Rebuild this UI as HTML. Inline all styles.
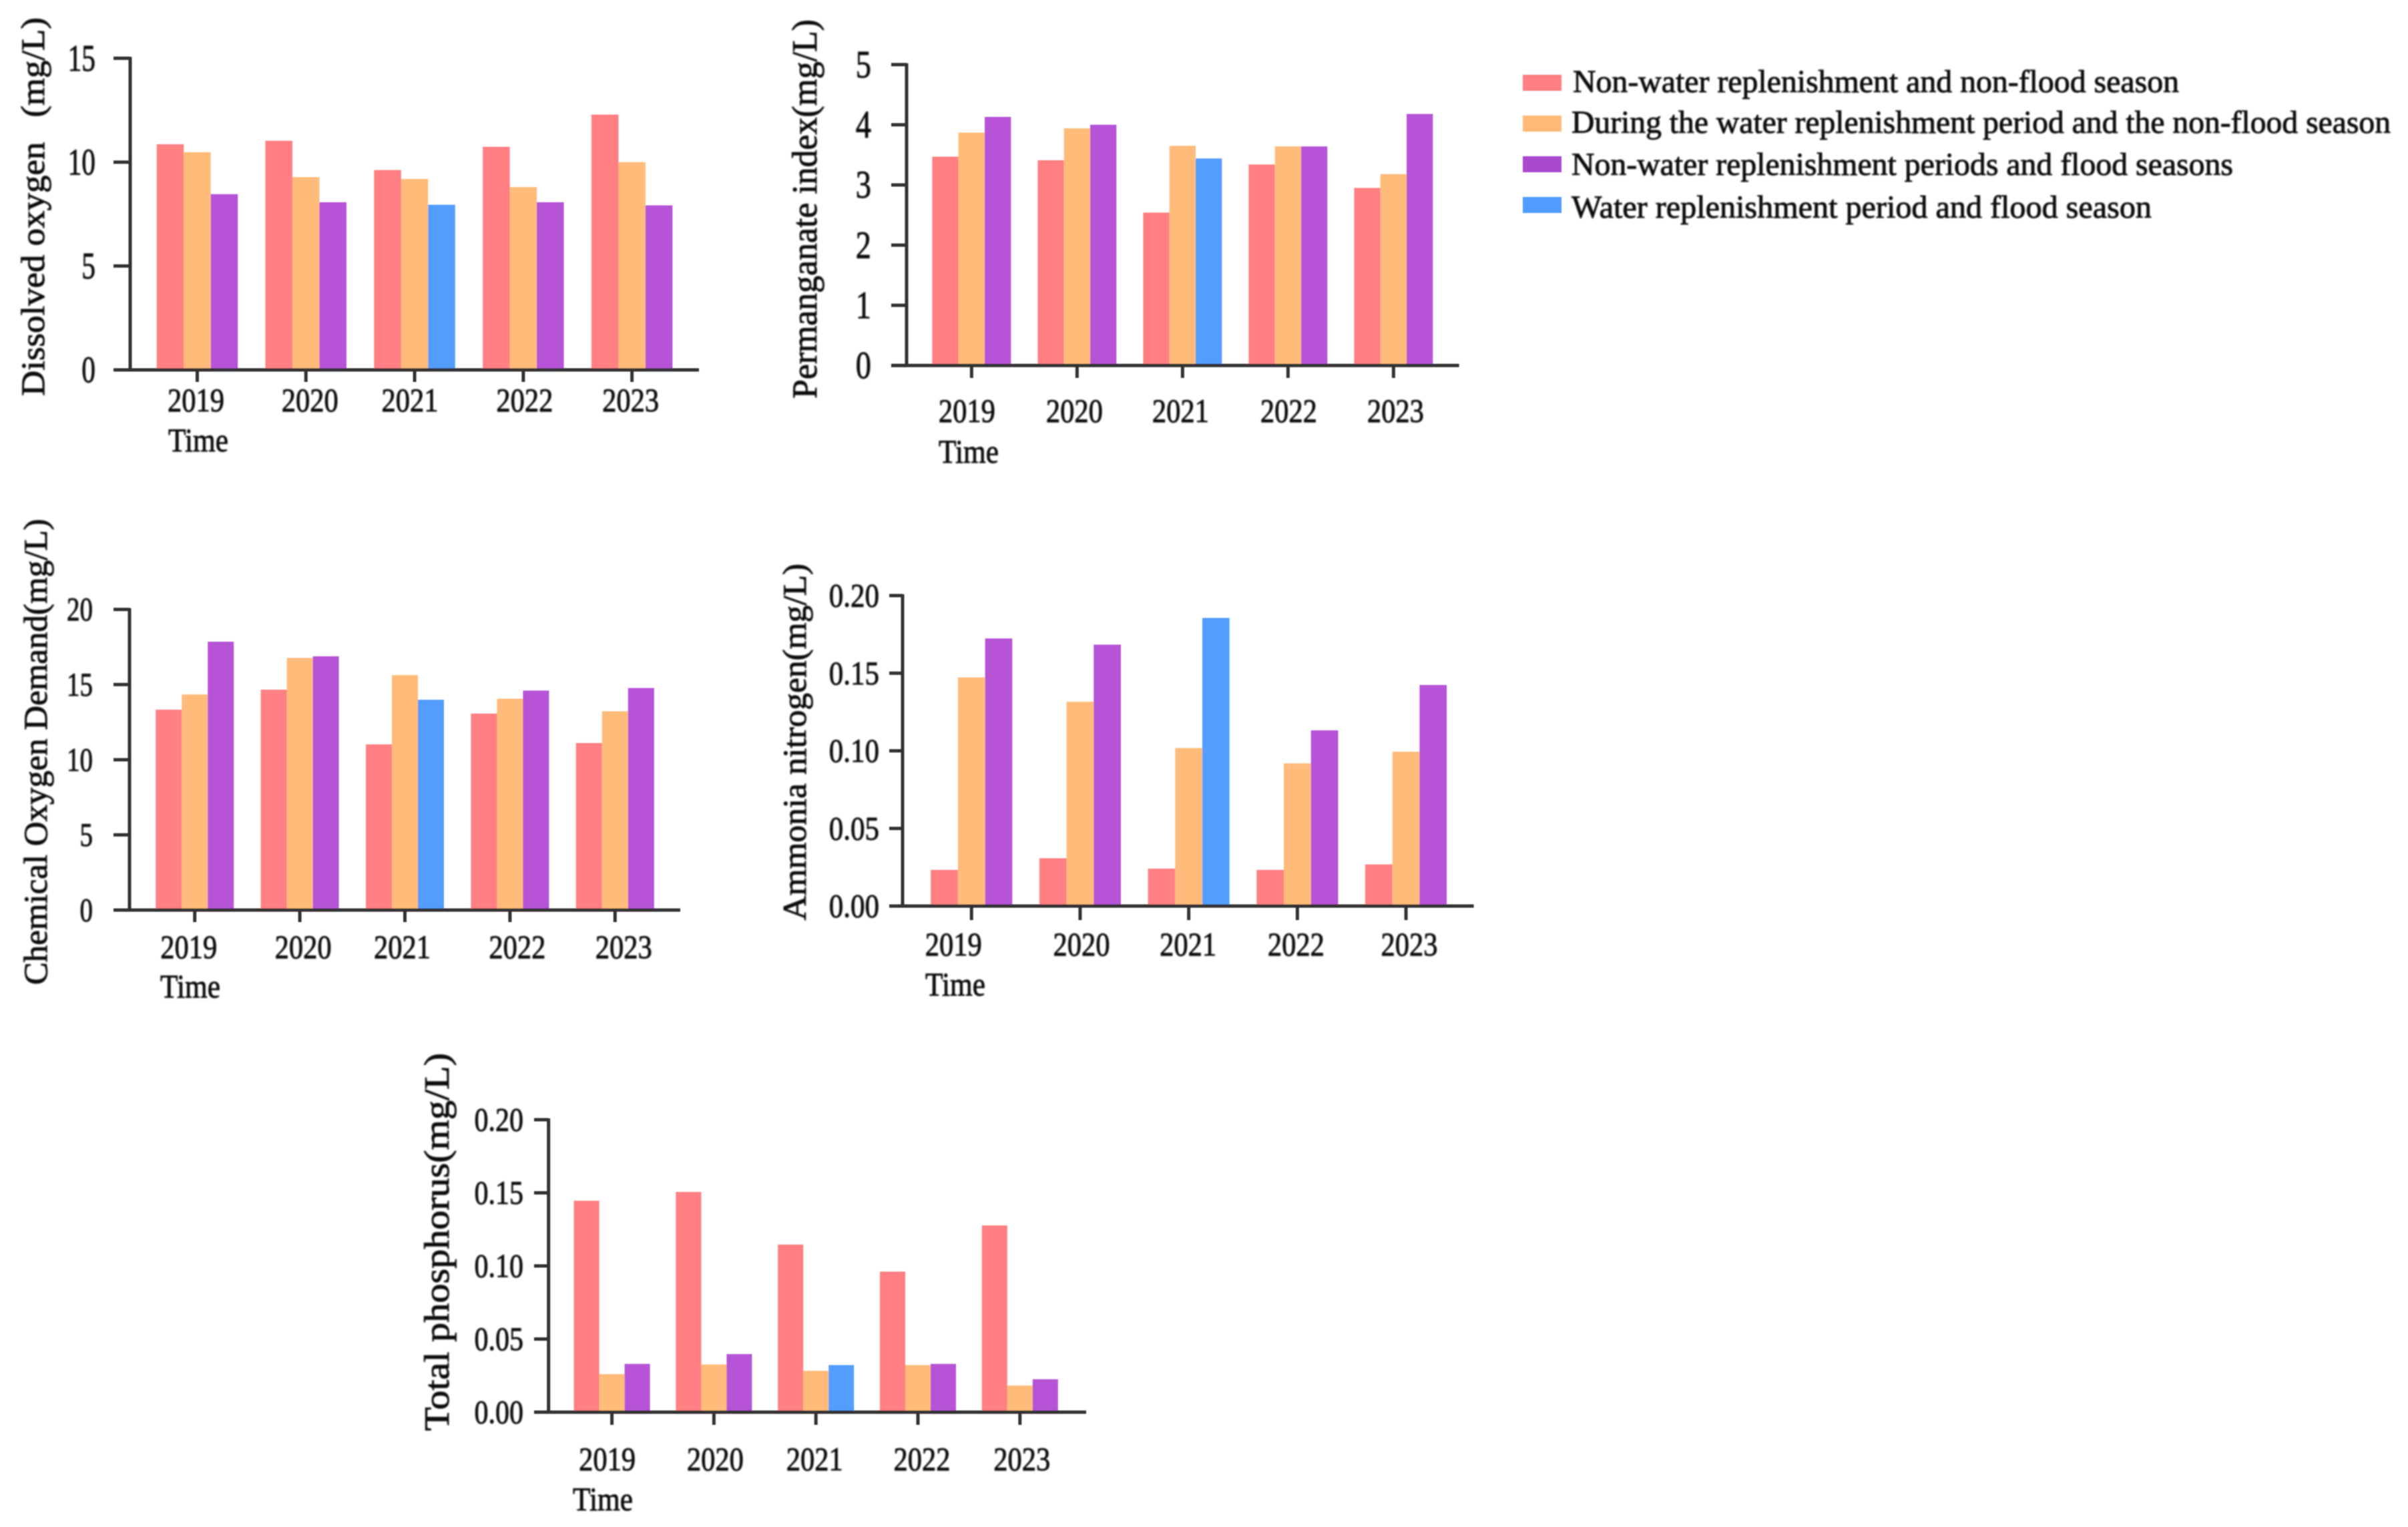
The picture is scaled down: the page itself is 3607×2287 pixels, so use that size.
<!DOCTYPE html>
<html lang="en">
<head>
<meta charset="utf-8">
<title>Water quality indicators 2019-2023</title>
<style>
html,body{margin:0;padding:0;background:#fff;}
svg{display:block;}
text{font-family:"Liberation Serif",serif;fill:#111;stroke:#111;stroke-width:0.9px;}
</style>
</head>
<body>
<svg id="figure" xmlns="http://www.w3.org/2000/svg" width="3607" height="2287" viewBox="0 0 3607 2287">
<defs>
<filter id="soft-text" x="-5%" y="-5%" width="110%" height="110%"><feGaussianBlur stdDeviation="1.1"/></filter>
<filter id="soft-mark" x="-5%" y="-5%" width="110%" height="110%"><feGaussianBlur stdDeviation="0.9"/></filter>
</defs>
<rect width="3607" height="2287" fill="#ffffff"/>
</svg>
<script>
const years = ['2019', '2020', '2021', '2022', '2023'];
const seriesNames = [
  'Non-water replenishment and non-flood season',
  'During the water replenishment period and the non-flood season',
  'Non-water replenishment periods and flood seasons',
  'Water replenishment period and flood season'
];

const oxygenTicks = ['0', '5', '10', '15'];
const oxygenNonNon = [10.86, 11.03, 9.62, 10.74, 12.29];
const oxygenDuringNon = [10.48, 9.28, 9.19, 8.8, 10.0];
const oxygenNonFlood = [8.46, 8.07, null, 8.07, 7.92];
const oxygenDuringFlood = [null, null, 7.95, null, null];

const permanganateTicks = ['0', '1', '2', '3', '4', '5'];
const permanganateNonNon = [3.47, 3.41, 2.54, 3.34, 2.95];
const permanganateDuringNon = [3.87, 3.94, 3.65, 3.64, 3.18];
const permanganateNonFlood = [4.13, 4.0, null, 3.64, 4.18];
const permanganateDuringFlood = [null, null, 3.44, null, null];

const codTicks = ['0', '5', '10', '15', '20'];
const codNonNon = [13.33, 14.66, 11.02, 13.07, 11.11];
const codDuringNon = [14.34, 16.77, 15.63, 14.06, 13.22];
const codNonFlood = [17.85, 16.88, null, 14.6, 14.77];
const codDuringFlood = [null, null, 13.99, null, null];

const ammoniaTicks = ['0.00', '0.05', '0.10', '0.15', '0.20'];
const ammoniaNonNon = [0.0233, 0.0308, 0.0241, 0.0233, 0.0268];
const ammoniaDuringNon = [0.1473, 0.1316, 0.1018, 0.0919, 0.0994];
const ammoniaNonFlood = [0.1724, 0.1684, null, 0.1132, 0.1424];
const ammoniaDuringFlood = [null, null, 0.1856, null, null];

const phosphorusTicks = ['0.00', '0.05', '0.10', '0.15', '0.20'];
const phosphorusNonNon = [0.1446, 0.1506, 0.1146, 0.0961, 0.1277];
const phosphorusDuringNon = [0.026, 0.0326, 0.0283, 0.0322, 0.0182];
const phosphorusNonFlood = [0.033, 0.0397, null, 0.033, 0.0225];
const phosphorusDuringFlood = [null, null, 0.0322, null, null];

const seriesColors = ['#ff7f82', '#ffbb7a', '#b653d6', '#529dff'];
const legendSwatchColors = ['#ff7f82', '#ffb877', '#a848cf', '#4f9bff'];
const SVG_NS = 'http://www.w3.org/2000/svg';
const figure = document.getElementById('figure');

const charts = [
  {
    id: 'dissolved-oxygen', title: 'Dissolved oxygen\u2002\u2009(mg/L)',
    ticks: oxygenTicks,
    series: [oxygenNonNon, oxygenDuringNon, oxygenNonFlood, oxygenDuringFlood],
    layout: { axisX: 195, top: 87.3, bottom: 554, tickLeft: 170, right: 1047, tickBottom: 572, barStart: 234.7, barW: 40.5, step: 162.8,
      labelBase: 616, timeBase: 676, timeX: 297, nudges: [-2, 6, -7, 2, -2], yLabelRight: 143, yLabelSize: 56, yLabelSx: 0.74,
      titleX: 66, titleBottom: 593, titleTop: 26, titleSize: 50 }
  },
  {
    id: 'permanganate-index', title: 'Permanganate index(mg/L)',
    ticks: permanganateTicks,
    series: [permanganateNonNon, permanganateDuringNon, permanganateNonFlood, permanganateDuringFlood],
    layout: { axisX: 1358, top: 96.7, bottom: 547.4, tickLeft: 1335, right: 2185.6, tickBottom: 566, barStart: 1396.4, barW: 39.3, step: 158,
      labelBase: 632, timeBase: 693, timeX: 1451, nudges: [-7, -4, -3, 1, 3], yLabelRight: 1305, yLabelSize: 58, yLabelSx: 0.8,
      titleX: 1223, titleBottom: 597, titleTop: 29, titleSize: 53 }
  },
  {
    id: 'chemical-oxygen-demand', title: 'Chemical Oxygen Demand(mg/L)',
    ticks: codTicks,
    series: [codNonNon, codDuringNon, codNonFlood, codDuringFlood],
    layout: { axisX: 194, top: 912.7, bottom: 1363, tickLeft: 170, right: 1019, tickBottom: 1381, barStart: 233.2, barW: 39, step: 157.4,
      labelBase: 1435, timeBase: 1494, timeX: 285, nudges: [-9, 5, -4, 11, 13], yLabelRight: 139, yLabelSize: 50, yLabelSx: 0.78,
      titleX: 70, titleBottom: 1475, titleTop: 777, titleSize: 50 }
  },
  {
    id: 'ammonia-nitrogen', title: 'Ammonia nitrogen(mg/L)',
    ticks: ammoniaTicks,
    series: [ammoniaNonNon, ammoniaDuringNon, ammoniaNonFlood, ammoniaDuringFlood],
    layout: { axisX: 1352, top: 892, bottom: 1357, tickLeft: 1332, right: 2207.6, tickBottom: 1378, barStart: 1394.2, barW: 40.7, step: 162.7,
      labelBase: 1431, timeBase: 1491, timeX: 1431, nudges: [-27, 2, -1, -2, 5], yLabelRight: 1317, yLabelSize: 50, yLabelSx: 0.86,
      titleX: 1207, titleBottom: 1378.5, titleTop: 844, titleSize: 50 }
  },
  {
    id: 'total-phosphorus', title: 'Total phosphorus(mg/L)',
    ticks: phosphorusTicks,
    series: [phosphorusNonNon, phosphorusDuringNon, phosphorusNonFlood, phosphorusDuringFlood],
    layout: { axisX: 821.7, top: 1677, bottom: 2115, tickLeft: 800, right: 1627, tickBottom: 2134, barStart: 859.6, barW: 38, step: 152.8,
      labelBase: 2202, timeBase: 2262, timeX: 903, nudges: [-7, 2, -2, 6, 3], yLabelRight: 784, yLabelSize: 50, yLabelSx: 0.84,
      titleX: 672, titleBottom: 2143, titleTop: 1577, titleSize: 53 }
  }
];

function svgEl(tag, parent, attrs) {
  const el = document.createElementNS(SVG_NS, tag);
  Object.keys(attrs).forEach(function (k) { el.setAttribute(k, attrs[k]); });
  parent.appendChild(el);
  return el;
}

function fittedText(parent, str, x, y, size, length, anchor) {
  const t = svgEl('text', parent, { x: x, y: y, 'font-size': size, 'text-anchor': anchor, textLength: length, lengthAdjust: 'spacingAndGlyphs' });
  t.textContent = str;
  return t;
}

function drawChart(chart) {
  const L = chart.layout;
  const tickValues = chart.ticks.map(Number);
  const yMax = tickValues[tickValues.length - 1];
  const yScale = function (v) { return L.bottom - (v / yMax) * (L.bottom - L.top); };
  const bandLeft = function (i) { return L.barStart + i * L.step; };
  const bandCenter = function (i) { return bandLeft(i) + 1.5 * L.barW; };

  const group = svgEl('g', figure, {});
  
  

  const marks = svgEl('g', group, { filter: 'url(#soft-mark)' });
  
  

  chart.series.forEach(function (values, s) {
    const slot = Math.min(s, 2);
    values.forEach(function (v, i) {
      if (v === null) return;
      const bar = svgEl('rect', marks, {
        x: bandLeft(i) + slot * L.barW, y: yScale(v), width: L.barW, height: yScale(0) - yScale(v), fill: seriesColors[s]
      });
      
      
    });
  });

  const axisColor = '#303030';
  const yAxis = svgEl('line', marks, { x1: L.axisX, x2: L.axisX, y1: L.top - 2, y2: L.bottom + 2, stroke: axisColor, 'stroke-width': 5 });
  
  
  const xAxis = svgEl('line', marks, { x1: L.tickLeft, x2: L.right, y1: L.bottom, y2: L.bottom, stroke: axisColor, 'stroke-width': 5 });
  
  

  const labels = svgEl('g', group, { filter: 'url(#soft-text)' });
  
  

  chart.ticks.forEach(function (label, i) {
    const py = yScale(tickValues[i]);
    const tick = svgEl('line', marks, { x1: L.tickLeft, x2: L.axisX, y1: py, y2: py, stroke: axisColor, 'stroke-width': 5 });
    
    
    const baseline = py + L.yLabelSize * 0.33;
    const t = svgEl('text', labels, {
      'font-size': L.yLabelSize, 'text-anchor': 'end',
      transform: 'translate(' + L.yLabelRight + ' ' + baseline + ') scale(' + L.yLabelSx + ' 1)'
    });
    t.textContent = label;
    
    
  });

  years.forEach(function (year, i) {
    const cx = bandCenter(i);
    const tick = svgEl('line', marks, { x1: cx, x2: cx, y1: L.bottom, y2: L.tickBottom, stroke: axisColor, 'stroke-width': 5 });
    
    
    const t = fittedText(labels, year, cx + L.nudges[i], L.labelBase, 50, 85, 'middle');
    
    
  });

  const time = fittedText(labels, 'Time', L.timeX, L.timeBase, 50, 90, 'middle');
  
  

  const title = svgEl('text', labels, {
    x: 0, y: 0, 'font-size': L.titleSize, 'text-anchor': 'start',
    textLength: L.titleBottom - L.titleTop, lengthAdjust: 'spacingAndGlyphs',
    transform: 'translate(' + L.titleX + ' ' + L.titleBottom + ') rotate(-90)'
  });
  title.textContent = chart.title;
  
  
}

charts.forEach(drawChart);

const legendRows = [
  { swatchY: 124, textX: 2356, textBase: 138, textLen: 908 },
  { swatchY: 185, textX: 2354, textBase: 199, textLen: 1227 },
  { swatchY: 246, textX: 2354, textBase: 262, textLen: 991 },
  { swatchY: 307, textX: 2354, textBase: 326, textLen: 869 }
];
const legend = svgEl('g', figure, {});


seriesNames.forEach(function (name, i) {
  const row = legendRows[i];
  const swatch = svgEl('rect', legend, { x: 2281, y: row.swatchY - 12, width: 58, height: 24, fill: legendSwatchColors[i], filter: 'url(#soft-mark)' });
  
  
  const t = fittedText(legend, name, row.textX, row.textBase, 48, row.textLen, 'start');
  t.setAttribute('filter', 'url(#soft-text)');
  
  
});
</script>
</body>
</html>
